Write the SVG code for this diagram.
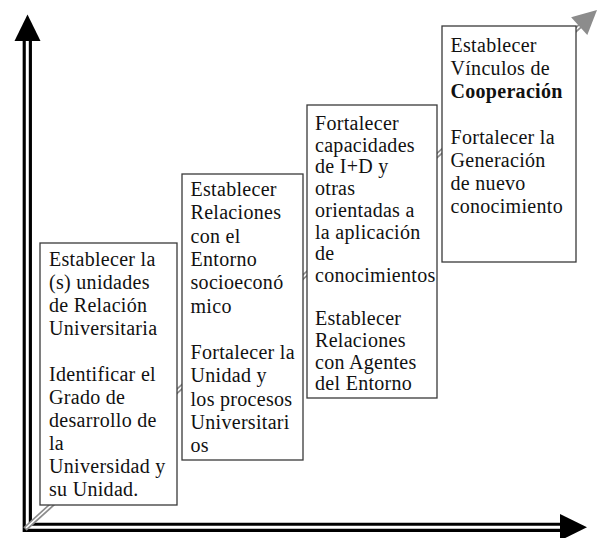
<svg xmlns="http://www.w3.org/2000/svg" width="602" height="538" viewBox="0 0 602 538">
<style>
.box{fill:#fff;stroke:#3a3a3a;stroke-width:1.3}
.t{font-family:"Liberation Serif","Times New Roman",serif;font-size:20px;fill:#111;letter-spacing:0.3px}
.b{font-weight:bold}
.axo{fill:none;stroke:#000;stroke-width:9.3;stroke-linejoin:miter}
.axi{fill:none;stroke:#fff;stroke-width:3;stroke-linejoin:miter}
.dgo{stroke:#8c8c8c;stroke-width:5}
.dgi{stroke:#fff;stroke-width:1.6}
</style>
<rect width="602" height="538" fill="#fff"/>
<g id="connectors">
<path class="axo" d="M27.3,41 V527.3 H561"/>
<path class="axi" d="M27.3,41 V527.3 H561"/>
<polygon points="14.5,41 27.5,14.5 40.5,41" fill="#000"/>
<polygon points="560,514 587,527.3 560,540.6" fill="#000"/>
<line class="dgo" x1="25" y1="529" x2="580" y2="26"/>
<line class="dgi" x1="26" y1="528" x2="580" y2="26"/>
<polygon points="597,10 587.3,35 571.1,17.2" fill="#8c8c8c"/>
</g>
<g id="node1">
<rect class="box" x="40" y="243" width="137" height="262"/>
<text class="t"><tspan x="49" y="266">Establecer la</tspan><tspan x="49" y="289">(s) unidades</tspan><tspan x="49" y="312">de Relación</tspan><tspan x="49" y="335">Universitaria</tspan><tspan x="49" y="381">Identificar el</tspan><tspan x="49" y="404">Grado de</tspan><tspan x="49" y="427">desarrollo de</tspan><tspan x="49" y="450">la</tspan><tspan x="49" y="473">Universidad y</tspan><tspan x="49" y="496">su Unidad.</tspan></text>
</g>
<g id="node2">
<rect class="box" x="182" y="174" width="121" height="286"/>
<text class="t"><tspan x="190.5" y="196">Establecer</tspan><tspan x="190.5" y="219.3">Relaciones</tspan><tspan x="190.5" y="242.6">con el</tspan><tspan x="190.5" y="265.9">Entorno</tspan><tspan x="190.5" y="289.2">socioeconó</tspan><tspan x="190.5" y="312.5">mico</tspan><tspan x="190.5" y="359.1">Fortalecer la</tspan><tspan x="190.5" y="382.4">Unidad y</tspan><tspan x="190.5" y="405.7">los procesos</tspan><tspan x="190.5" y="429">Universitari</tspan><tspan x="190.5" y="452.3">os</tspan></text>
</g>
<g id="node3">
<rect class="box" x="307" y="105" width="130" height="293"/>
<text class="t"><tspan x="315" y="130">Fortalecer</tspan><tspan x="315" y="151.7">capacidades</tspan><tspan x="315" y="173.4">de I+D y</tspan><tspan x="315" y="195.1">otras</tspan><tspan x="315" y="216.8">orientadas a</tspan><tspan x="315" y="238.5">la aplicación</tspan><tspan x="315" y="260.2">de</tspan><tspan x="315" y="281.9">conocimientos</tspan><tspan x="315" y="325.3">Establecer</tspan><tspan x="315" y="347">Relaciones</tspan><tspan x="315" y="368.7">con Agentes</tspan><tspan x="315" y="390.4">del Entorno</tspan></text>
</g>
<g id="node4">
<rect class="box" x="442" y="26" width="134" height="236"/>
<text class="t"><tspan x="450.5" y="51.5">Establecer</tspan><tspan x="450.5" y="74.5">Vínculos de</tspan><tspan class="b" x="450.5" y="97.5">Cooperación</tspan><tspan x="450.5" y="143.5">Fortalecer la</tspan><tspan x="450.5" y="166.5">Generación</tspan><tspan x="450.5" y="189.5">de nuevo</tspan><tspan x="450.5" y="212.5">conocimiento</tspan></text>
</g>
</svg>
